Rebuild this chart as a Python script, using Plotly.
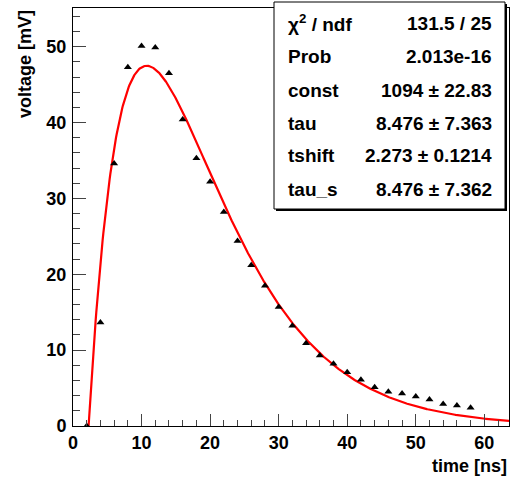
import numpy as np
import plotly.graph_objects as go

# Data points (time in ns, voltage in mV)
time_ns = [2, 4, 6, 8, 10, 12, 14, 16, 18, 20, 22, 24, 26, 28, 30,
           32, 34, 36, 38, 40, 42, 44, 46, 48, 50, 52, 54, 56, 58]
voltage_mv = [0.0, 13.65, 34.6, 47.3, 50.1, 49.9, 46.5, 40.4, 35.3, 32.2,
              28.2, 24.4, 21.2, 18.5, 15.7, 13.2, 10.9, 9.3, 8.2, 7.1,
              6.1, 5.1, 4.5, 4.3, 3.9, 3.5, 2.9, 2.7, 2.4]

# Fit parameters (as shown in the stats box)
p_const = 1094.0
p_tau = 8.476
p_tshift = 2.273
p_tau_s = 8.476

stat_labels = ["χ<sup>2</sup> / ndf", "Prob", "const", "tau", "tshift", "tau_s"]
stat_values = ["131.5 / 25", "2.013e-16", "1094 ± 22.83", "8.476 ± 7.363",
               "2.273 ± 0.1214", "8.476 ± 7.362"]

X_MAX = 63.6
Y_MAX = 55.1

# fit function curve
tf = np.linspace(p_tshift, X_MAX, 600)
tt = tf - p_tshift
fit_vals = p_const * tt / (p_tau * p_tau_s) * np.exp(-tt / p_tau_s)

W, H = 511, 480
L, R, T, B = 73, 509, 8, 426


def px(xp):
    return (xp - L) / (R - L)


def py(yp):
    return (B - yp) / (B - T)


fig = go.Figure()
fig.add_trace(go.Scatter(x=tf, y=fit_vals, mode="lines",
                         line=dict(color="#ff0000", width=2.2),
                         hoverinfo="skip", showlegend=False))
fig.add_trace(go.Scatter(x=time_ns, y=voltage_mv, mode="markers",
                         marker=dict(symbol="triangle-up", color="black", size=7),
                         showlegend=False, cliponaxis=True))

tickfont = dict(family="Liberation Sans, Arial, sans-serif", size=18,
                color="black", weight="bold")
axis_common = dict(
    showline=True, linecolor="black", linewidth=1, mirror=True,
    ticks="inside", tickcolor="#444", tickwidth=1,
    showgrid=False, zeroline=False, tickfont=tickfont,
)

fig.update_xaxes(range=[0, X_MAX], dtick=10, tick0=0, ticklen=12,
                 minor=dict(dtick=2, ticklen=6, ticks="inside", tickcolor="#444"),
                 **axis_common)
fig.update_yaxes(range=[0, Y_MAX], dtick=10, tick0=0, ticklen=13,
                 minor=dict(dtick=2, ticklen=7, ticks="inside", tickcolor="#444"),
                 ticklabelstandoff=2,
                 **axis_common)

shapes = []
# stats box shadow and box
bx0, bx1, by0, by1 = 274, 505, 2, 209
shapes.append(dict(type="rect", xref="paper", yref="paper",
                   x0=px(bx0 + 2), x1=px(bx1 + 2), y0=py(by1 + 2), y1=py(by0 + 2),
                   fillcolor="black", line=dict(width=0), layer="above"))
shapes.append(dict(type="rect", xref="paper", yref="paper",
                   x0=px(bx0), x1=px(bx1), y0=py(by1), y1=py(by0),
                   fillcolor="white", line=dict(color="black", width=1), layer="above"))

annotations = []
statfont = dict(family="Liberation Sans, Arial, sans-serif", size=19, color="black")
row_y = [23, 56, 90, 123, 156, 189]
for lab, val, yy in zip(stat_labels, stat_values, row_y):
    annotations.append(dict(text="<b>%s</b>" % lab, xref="paper", yref="paper",
                            x=px(286), y=py(yy), xanchor="left", yanchor="middle",
                            showarrow=False, font=statfont))
    annotations.append(dict(text="<b>%s</b>" % val, xref="paper", yref="paper",
                            x=px(494), y=py(yy), xanchor="right", yanchor="middle",
                            showarrow=False, font=statfont))

titlefont = dict(family="Liberation Sans, Arial, sans-serif", size=18, color="black")
annotations.append(dict(text="<b>time [ns]</b>", xref="paper", yref="paper",
                        x=px(509), y=py(466), xanchor="right", yanchor="middle",
                        showarrow=False, font=titlefont))
annotations.append(dict(text="<b>voltage [mV]</b>", xref="paper", yref="paper",
                        x=px(25), y=py(8), xanchor="center", yanchor="top",
                        textangle=-90, showarrow=False, font=titlefont))

fig.update_layout(
    width=W, height=H,
    margin=dict(l=L, r=W - R, t=T, b=H - B),
    paper_bgcolor="white", plot_bgcolor="white",
    shapes=shapes, annotations=annotations,
    showlegend=False,
)

fig.write_html("out.html")
